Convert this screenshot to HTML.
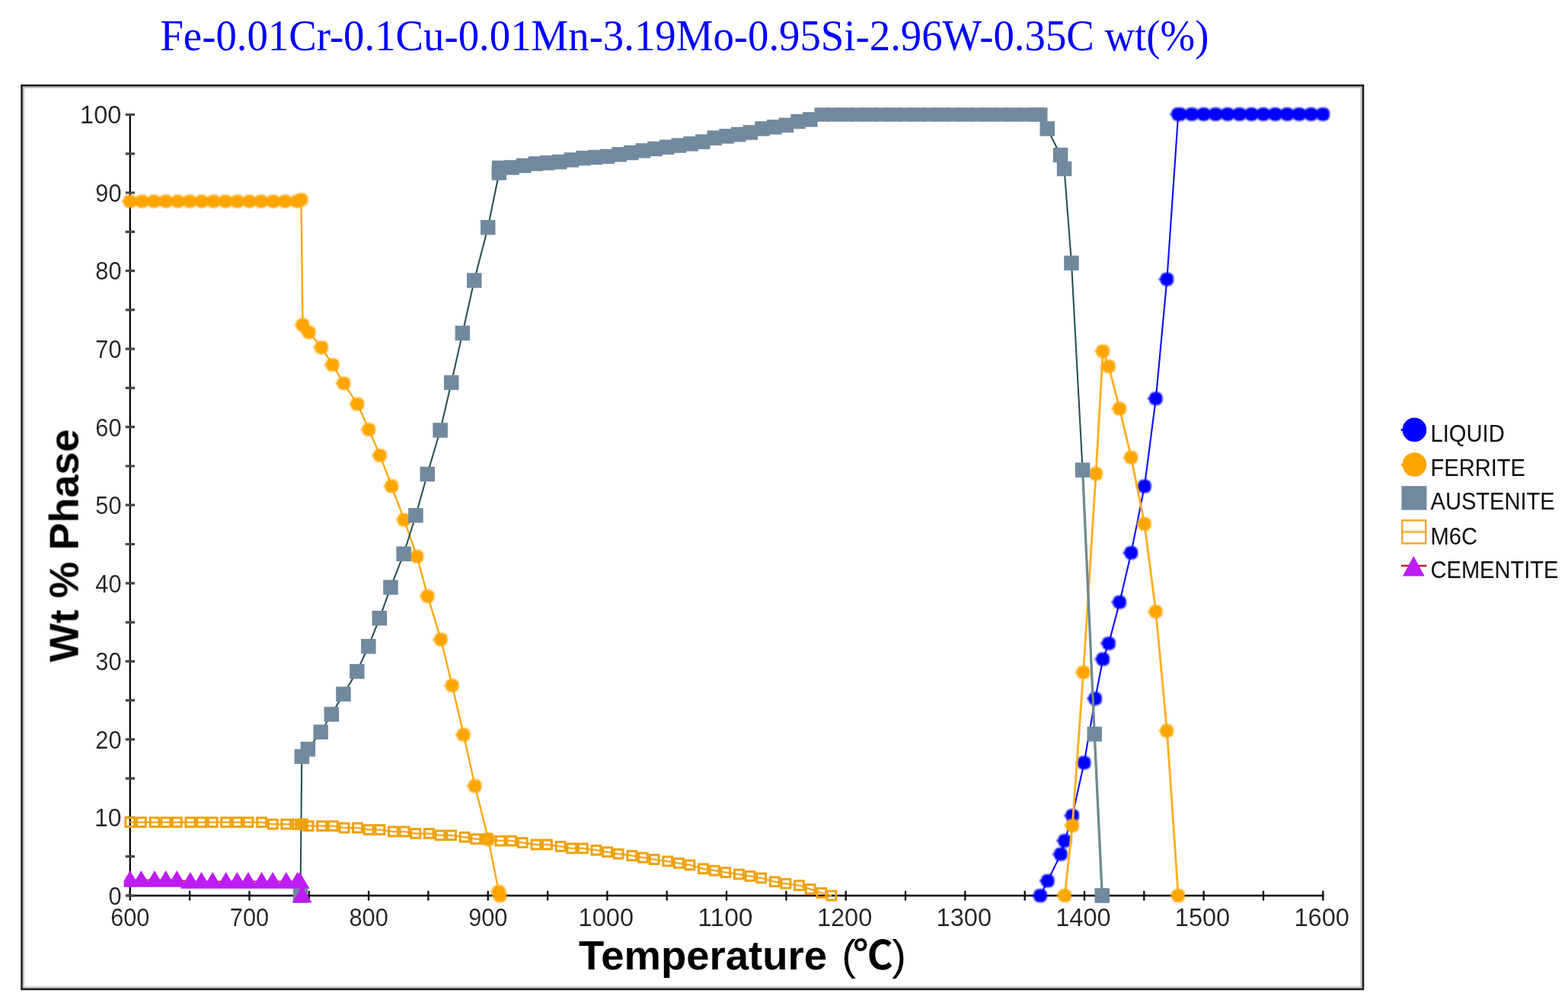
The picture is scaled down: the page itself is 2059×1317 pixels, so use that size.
<!DOCTYPE html>
<html lang="en"><head><meta charset="utf-8"><title>Phase fraction vs temperature</title>
<style>
html,body{margin:0;padding:0;background:#fff;}
body{width:2059px;height:1317px;}
svg{display:block;}
.tk{font-family:"Liberation Sans","DejaVu Sans",sans-serif;font-size:33.5px;fill:#202020;stroke:#fff;stroke-width:0.15px;}
.lg{font-family:"Liberation Sans","DejaVu Sans",sans-serif;font-size:32px;fill:#0a0a0a;}
.ax{font-family:"Liberation Sans","Noto Sans CJK KR",sans-serif;font-size:54px;font-weight:bold;fill:#000;}
.dg{font-family:"Liberation Sans","Noto Sans CJK KR",sans-serif;font-weight:700;font-size:52px;}
.pr{font-weight:normal;font-size:56px;}
.tt{font-family:"Liberation Serif","DejaVu Serif",serif;font-size:58px;fill:#0000ff;}
</style></head><body>
<svg width="2059" height="1317" viewBox="0 0 2059 1317">
<defs>
<filter id="soft" x="0" y="0" width="2059" height="1317" filterUnits="userSpaceOnUse"><feGaussianBlur stdDeviation="0.8"/></filter>
<filter id="fine" x="0" y="0" width="2059" height="1317" filterUnits="userSpaceOnUse"><feGaussianBlur stdDeviation="0.45"/></filter>
<clipPath id="cl"><rect x="162.6" y="100" width="1640" height="1100"/></clipPath>
</defs>
<rect x="0" y="0" width="2059" height="1317" fill="#fff"/>
<g id="frame" fill="none">
<rect x="30.8" y="114.6" width="1756.8" height="1182" stroke="#c2c2c2" stroke-width="2.4"/>
<rect x="28.5" y="112.2" width="1761.5" height="1186.7" stroke="#1a1a1a" stroke-width="2.5"/>
<path d="M170.8 149.4 V1177.2" stroke="#000" stroke-width="2.3"/>
<path d="M165 1176 H1738.4" stroke="#000" stroke-width="2.4"/>
</g>
<g id="labels" filter="url(#fine)">
<text class="tt" x="210.4" y="66.3" textLength="1377" lengthAdjust="spacingAndGlyphs">Fe-0.01Cr-0.1Cu-0.01Mn-3.19Mo-0.95Si-2.96W-0.35C wt(%)</text>
<path d="M170.8 1169.8 V1182.4 M249.1 1169.8 V1182.4 M327.5 1169.8 V1182.4 M405.8 1169.8 V1182.4 M484.1 1169.8 V1182.4 M562.4 1169.8 V1182.4 M640.8 1169.8 V1182.4 M719.1 1169.8 V1182.4 M797.4 1169.8 V1182.4 M875.7 1169.8 V1182.4 M954 1169.8 V1182.4 M1032.4 1169.8 V1182.4 M1110.7 1169.8 V1182.4 M1189 1169.8 V1182.4 M1267.3 1169.8 V1182.4 M1345.7 1169.8 V1182.4 M1424 1169.8 V1182.4 M1502.3 1169.8 V1182.4 M1580.6 1169.8 V1182.4 M1659 1169.8 V1182.4 M1737.3 1169.8 V1182.4" stroke="#0d0d0d" stroke-width="2.3" fill="none"/>
<path d="M164.8 1176 H177 M164.8 1124.7 H177 M164.8 1073.5 H177 M164.8 1022.2 H177 M164.8 970.9 H177 M164.8 919.6 H177 M164.8 868.3 H177 M164.8 817.1 H177 M164.8 765.8 H177 M164.8 714.5 H177 M164.8 663.2 H177 M164.8 612 H177 M164.8 560.7 H177 M164.8 509.4 H177 M164.8 458.1 H177 M164.8 406.9 H177 M164.8 355.6 H177 M164.8 304.3 H177 M164.8 253 H177 M164.8 201.8 H177 M164.8 150.5 H177" stroke="#444" stroke-width="3.2" fill="none"/>
<g class="tk" text-anchor="middle">
<text x="170.8" y="1216" textLength="51.3" lengthAdjust="spacingAndGlyphs">600</text>
<text x="327.5" y="1216" textLength="51.3" lengthAdjust="spacingAndGlyphs">700</text>
<text x="484.1" y="1216" textLength="51.3" lengthAdjust="spacingAndGlyphs">800</text>
<text x="640.8" y="1216" textLength="51.3" lengthAdjust="spacingAndGlyphs">900</text>
<text x="795.8" y="1216" textLength="72.4" lengthAdjust="spacingAndGlyphs">1000</text>
<text x="952.4" y="1216" textLength="72.4" lengthAdjust="spacingAndGlyphs">1100</text>
<text x="1109.1" y="1216" textLength="72.4" lengthAdjust="spacingAndGlyphs">1200</text>
<text x="1265.8" y="1216" textLength="72.4" lengthAdjust="spacingAndGlyphs">1300</text>
<text x="1422.4" y="1216" textLength="72.4" lengthAdjust="spacingAndGlyphs">1400</text>
<text x="1579" y="1216" textLength="72.4" lengthAdjust="spacingAndGlyphs">1500</text>
<text x="1735.7" y="1216" textLength="72.4" lengthAdjust="spacingAndGlyphs">1600</text>
</g>
<g class="tk" text-anchor="end">
<text x="159.5" y="1187.8" textLength="17.1" lengthAdjust="spacingAndGlyphs">0</text>
<text x="159.5" y="1085.2" textLength="35.6" lengthAdjust="spacingAndGlyphs">10</text>
<text x="159.5" y="982.7" textLength="34.2" lengthAdjust="spacingAndGlyphs">20</text>
<text x="159.5" y="880.1" textLength="34.2" lengthAdjust="spacingAndGlyphs">30</text>
<text x="159.5" y="777.6" textLength="34.2" lengthAdjust="spacingAndGlyphs">40</text>
<text x="159.5" y="675" textLength="34.2" lengthAdjust="spacingAndGlyphs">50</text>
<text x="159.5" y="572.5" textLength="34.2" lengthAdjust="spacingAndGlyphs">60</text>
<text x="159.5" y="469.9" textLength="34.2" lengthAdjust="spacingAndGlyphs">70</text>
<text x="159.5" y="367.4" textLength="34.2" lengthAdjust="spacingAndGlyphs">80</text>
<text x="159.5" y="264.8" textLength="34.2" lengthAdjust="spacingAndGlyphs">90</text>
<text x="159.5" y="162.3" textLength="54.4" lengthAdjust="spacingAndGlyphs">100</text>
</g>
<text class="ax" x="760" y="1272.8"><tspan textLength="326" lengthAdjust="spacingAndGlyphs">Temperature</tspan> <tspan class="pr" x="1105.2">(</tspan><tspan class="dg" x="1120.5">℃</tspan><tspan class="pr" x="1171.2">)</tspan></text>
<text class="ax" transform="translate(102.6 869.5) rotate(-90)" textLength="306" lengthAdjust="spacingAndGlyphs">Wt % Phase</text>
<g class="lg">
<text x="1878.5" y="580" textLength="97.2" lengthAdjust="spacingAndGlyphs">LIQUID</text>
<text x="1878.5" y="625.3" textLength="124.5" lengthAdjust="spacingAndGlyphs">FERRITE</text>
<text x="1878.5" y="668.8" textLength="163.2" lengthAdjust="spacingAndGlyphs">AUSTENITE</text>
<text x="1878.5" y="714.6" textLength="61.5" lengthAdjust="spacingAndGlyphs">M6C</text>
<text x="1878.5" y="758.6" textLength="168" lengthAdjust="spacingAndGlyphs">CEMENTITE</text>
</g>
</g>
<g id="liquid">
<path d="M1366.1 1176 L1375.8 1156.6 L1392.9 1121.6 L1398.2 1104 L1408.2 1071 L1423.6 1001.5 L1438.2 917.3 L1448.3 865.5 L1456 844.9 L1470.2 790.7 L1485.4 725.9 L1502.9 638.5 L1517.8 523.4 L1532.4 366.7 L1547.2 150 L1549.3 150 L1565 150 L1580.6 150 L1596.3 150 L1612 150 L1627.6 150 L1643.3 150 L1659 150 L1674.6 150 L1690.3 150 L1706 150 L1721.6 150 L1737.3 150" fill="none" stroke="#0a0aff" stroke-width="2.1" stroke-linejoin="round" filter="url(#fine)"/>
<g fill="#0000ff" filter="url(#soft)"><rect x="1357.4" y="1167.3" width="17.4" height="17.4" rx="7"/><rect x="1355.4" y="1174.7" width="3.4" height="2.6"/><rect x="1367.1" y="1147.9" width="17.4" height="17.4" rx="7"/><rect x="1365.1" y="1155.3" width="3.4" height="2.6"/><rect x="1384.2" y="1112.9" width="17.4" height="17.4" rx="7"/><rect x="1382.2" y="1120.3" width="3.4" height="2.6"/><rect x="1389.5" y="1095.3" width="17.4" height="17.4" rx="7"/><rect x="1387.5" y="1102.7" width="3.4" height="2.6"/><rect x="1399.5" y="1062.3" width="17.4" height="17.4" rx="7"/><rect x="1397.5" y="1069.7" width="3.4" height="2.6"/><rect x="1414.9" y="992.8" width="17.4" height="17.4" rx="7"/><rect x="1412.9" y="1000.2" width="3.4" height="2.6"/><rect x="1429.5" y="908.6" width="17.4" height="17.4" rx="7"/><rect x="1427.5" y="916" width="3.4" height="2.6"/><rect x="1439.6" y="856.8" width="17.4" height="17.4" rx="7"/><rect x="1437.6" y="864.2" width="3.4" height="2.6"/><rect x="1447.3" y="836.2" width="17.4" height="17.4" rx="7"/><rect x="1445.3" y="843.6" width="3.4" height="2.6"/><rect x="1461.5" y="782" width="17.4" height="17.4" rx="7"/><rect x="1459.5" y="789.4" width="3.4" height="2.6"/><rect x="1476.7" y="717.2" width="17.4" height="17.4" rx="7"/><rect x="1474.7" y="724.6" width="3.4" height="2.6"/><rect x="1494.2" y="629.8" width="17.4" height="17.4" rx="7"/><rect x="1492.2" y="637.2" width="3.4" height="2.6"/><rect x="1509.1" y="514.7" width="17.4" height="17.4" rx="7"/><rect x="1507.1" y="522.1" width="3.4" height="2.6"/><rect x="1523.7" y="358" width="17.4" height="17.4" rx="7"/><rect x="1521.7" y="365.4" width="3.4" height="2.6"/><rect x="1538.5" y="141.3" width="17.4" height="17.4" rx="7"/><rect x="1536.5" y="148.7" width="3.4" height="2.6"/><rect x="1540.6" y="141.3" width="17.4" height="17.4" rx="7"/><rect x="1538.6" y="148.7" width="3.4" height="2.6"/><rect x="1556.3" y="141.3" width="17.4" height="17.4" rx="7"/><rect x="1554.3" y="148.7" width="3.4" height="2.6"/><rect x="1571.9" y="141.3" width="17.4" height="17.4" rx="7"/><rect x="1569.9" y="148.7" width="3.4" height="2.6"/><rect x="1587.6" y="141.3" width="17.4" height="17.4" rx="7"/><rect x="1585.6" y="148.7" width="3.4" height="2.6"/><rect x="1603.3" y="141.3" width="17.4" height="17.4" rx="7"/><rect x="1601.3" y="148.7" width="3.4" height="2.6"/><rect x="1618.9" y="141.3" width="17.4" height="17.4" rx="7"/><rect x="1616.9" y="148.7" width="3.4" height="2.6"/><rect x="1634.6" y="141.3" width="17.4" height="17.4" rx="7"/><rect x="1632.6" y="148.7" width="3.4" height="2.6"/><rect x="1650.3" y="141.3" width="17.4" height="17.4" rx="7"/><rect x="1648.3" y="148.7" width="3.4" height="2.6"/><rect x="1665.9" y="141.3" width="17.4" height="17.4" rx="7"/><rect x="1663.9" y="148.7" width="3.4" height="2.6"/><rect x="1681.6" y="141.3" width="17.4" height="17.4" rx="7"/><rect x="1679.6" y="148.7" width="3.4" height="2.6"/><rect x="1697.3" y="141.3" width="17.4" height="17.4" rx="7"/><rect x="1695.3" y="148.7" width="3.4" height="2.6"/><rect x="1712.9" y="141.3" width="17.4" height="17.4" rx="7"/><rect x="1710.9" y="148.7" width="3.4" height="2.6"/><rect x="1728.6" y="141.3" width="17.4" height="17.4" rx="7"/><rect x="1726.6" y="148.7" width="3.4" height="2.6"/></g>
</g>
<g id="ferrite">
<path d="M170.8 264.4 L186.5 264.4 L202.1 264.4 L217.8 264.4 L233.5 264.4 L249.1 264.4 L264.8 264.4 L280.5 264.4 L296.1 264.4 L311.8 264.4 L327.5 264.4 L343.1 264.4 L358.8 264.4 L374.4 264.4 L390.1 264.4 L395.5 262.2 L397.5 426.6 L405.7 436.4 L422.2 456.2 L436.8 479.1 L451.4 503.4 L469.4 530.6 L484.4 564.1 L499 598.1 L514.3 638.3 L530.7 682.6 L547.6 730.8 L561.6 782.9 L579 839.7 L593.8 900.1 L608.8 964.8 L623.7 1032 L641.2 1102 L655 1171 L656.5 1176" fill="none" stroke="#ffa90f" stroke-width="2.4" stroke-linejoin="round" filter="url(#fine)"/>
<path d="M1398.2 1176 L1408.2 1084 L1422.6 882.9 L1439.1 622 L1448.3 461.2 L1456 481.1 L1470.2 536.5 L1485.4 600.6 L1502.9 688 L1517.8 803.1 L1532.4 959.7 L1547.2 1176" fill="none" stroke="#ffb020" stroke-width="2.9" stroke-linejoin="round" filter="url(#fine)"/>
<g fill="#ffa500" filter="url(#soft)"><rect x="162.1" y="255.7" width="17.4" height="17.4" rx="7"/><rect x="160.1" y="263.1" width="3.4" height="2.6"/><rect x="177.8" y="255.7" width="17.4" height="17.4" rx="7"/><rect x="175.8" y="263.1" width="3.4" height="2.6"/><rect x="193.4" y="255.7" width="17.4" height="17.4" rx="7"/><rect x="191.4" y="263.1" width="3.4" height="2.6"/><rect x="209.1" y="255.7" width="17.4" height="17.4" rx="7"/><rect x="207.1" y="263.1" width="3.4" height="2.6"/><rect x="224.8" y="255.7" width="17.4" height="17.4" rx="7"/><rect x="222.8" y="263.1" width="3.4" height="2.6"/><rect x="240.4" y="255.7" width="17.4" height="17.4" rx="7"/><rect x="238.4" y="263.1" width="3.4" height="2.6"/><rect x="256.1" y="255.7" width="17.4" height="17.4" rx="7"/><rect x="254.1" y="263.1" width="3.4" height="2.6"/><rect x="271.8" y="255.7" width="17.4" height="17.4" rx="7"/><rect x="269.8" y="263.1" width="3.4" height="2.6"/><rect x="287.4" y="255.7" width="17.4" height="17.4" rx="7"/><rect x="285.4" y="263.1" width="3.4" height="2.6"/><rect x="303.1" y="255.7" width="17.4" height="17.4" rx="7"/><rect x="301.1" y="263.1" width="3.4" height="2.6"/><rect x="318.8" y="255.7" width="17.4" height="17.4" rx="7"/><rect x="316.8" y="263.1" width="3.4" height="2.6"/><rect x="334.4" y="255.7" width="17.4" height="17.4" rx="7"/><rect x="332.4" y="263.1" width="3.4" height="2.6"/><rect x="350.1" y="255.7" width="17.4" height="17.4" rx="7"/><rect x="348.1" y="263.1" width="3.4" height="2.6"/><rect x="365.7" y="255.7" width="17.4" height="17.4" rx="7"/><rect x="363.7" y="263.1" width="3.4" height="2.6"/><rect x="381.4" y="255.7" width="17.4" height="17.4" rx="7"/><rect x="379.4" y="263.1" width="3.4" height="2.6"/><rect x="386.8" y="253.5" width="17.4" height="17.4" rx="7"/><rect x="384.8" y="260.9" width="3.4" height="2.6"/><rect x="388.8" y="417.9" width="17.4" height="17.4" rx="7"/><rect x="386.8" y="425.3" width="3.4" height="2.6"/><rect x="397" y="427.7" width="17.4" height="17.4" rx="7"/><rect x="395" y="435.1" width="3.4" height="2.6"/><rect x="413.5" y="447.5" width="17.4" height="17.4" rx="7"/><rect x="411.5" y="454.9" width="3.4" height="2.6"/><rect x="428.1" y="470.4" width="17.4" height="17.4" rx="7"/><rect x="426.1" y="477.8" width="3.4" height="2.6"/><rect x="442.7" y="494.7" width="17.4" height="17.4" rx="7"/><rect x="440.7" y="502.1" width="3.4" height="2.6"/><rect x="460.7" y="521.9" width="17.4" height="17.4" rx="7"/><rect x="458.7" y="529.3" width="3.4" height="2.6"/><rect x="475.7" y="555.4" width="17.4" height="17.4" rx="7"/><rect x="473.7" y="562.8" width="3.4" height="2.6"/><rect x="490.3" y="589.4" width="17.4" height="17.4" rx="7"/><rect x="488.3" y="596.8" width="3.4" height="2.6"/><rect x="505.6" y="629.6" width="17.4" height="17.4" rx="7"/><rect x="503.6" y="637" width="3.4" height="2.6"/><rect x="522" y="673.9" width="17.4" height="17.4" rx="7"/><rect x="520" y="681.3" width="3.4" height="2.6"/><rect x="538.9" y="722.1" width="17.4" height="17.4" rx="7"/><rect x="536.9" y="729.5" width="3.4" height="2.6"/><rect x="552.9" y="774.2" width="17.4" height="17.4" rx="7"/><rect x="550.9" y="781.6" width="3.4" height="2.6"/><rect x="570.3" y="831" width="17.4" height="17.4" rx="7"/><rect x="568.3" y="838.4" width="3.4" height="2.6"/><rect x="585.1" y="891.4" width="17.4" height="17.4" rx="7"/><rect x="583.1" y="898.8" width="3.4" height="2.6"/><rect x="600.1" y="956.1" width="17.4" height="17.4" rx="7"/><rect x="598.1" y="963.5" width="3.4" height="2.6"/><rect x="615" y="1023.3" width="17.4" height="17.4" rx="7"/><rect x="613" y="1030.7" width="3.4" height="2.6"/><rect x="632.5" y="1093.3" width="17.4" height="17.4" rx="7"/><rect x="630.5" y="1100.7" width="3.4" height="2.6"/><rect x="646.3" y="1162.3" width="17.4" height="17.4" rx="7"/><rect x="644.3" y="1169.7" width="3.4" height="2.6"/><rect x="647.8" y="1167.3" width="17.4" height="17.4" rx="7"/><rect x="645.8" y="1174.7" width="3.4" height="2.6"/><rect x="1389.5" y="1167.3" width="17.4" height="17.4" rx="7"/><rect x="1387.5" y="1174.7" width="3.4" height="2.6"/><rect x="1399.5" y="1075.3" width="17.4" height="17.4" rx="7"/><rect x="1397.5" y="1082.7" width="3.4" height="2.6"/><rect x="1413.9" y="874.2" width="17.4" height="17.4" rx="7"/><rect x="1411.9" y="881.6" width="3.4" height="2.6"/><rect x="1430.4" y="613.3" width="17.4" height="17.4" rx="7"/><rect x="1428.4" y="620.7" width="3.4" height="2.6"/><rect x="1439.6" y="452.5" width="17.4" height="17.4" rx="7"/><rect x="1437.6" y="459.9" width="3.4" height="2.6"/><rect x="1447.3" y="472.4" width="17.4" height="17.4" rx="7"/><rect x="1445.3" y="479.8" width="3.4" height="2.6"/><rect x="1461.5" y="527.8" width="17.4" height="17.4" rx="7"/><rect x="1459.5" y="535.2" width="3.4" height="2.6"/><rect x="1476.7" y="591.9" width="17.4" height="17.4" rx="7"/><rect x="1474.7" y="599.3" width="3.4" height="2.6"/><rect x="1494.2" y="679.3" width="17.4" height="17.4" rx="7"/><rect x="1492.2" y="686.7" width="3.4" height="2.6"/><rect x="1509.1" y="794.4" width="17.4" height="17.4" rx="7"/><rect x="1507.1" y="801.8" width="3.4" height="2.6"/><rect x="1523.7" y="951" width="17.4" height="17.4" rx="7"/><rect x="1521.7" y="958.4" width="3.4" height="2.6"/><rect x="1538.5" y="1167.3" width="17.4" height="17.4" rx="7"/><rect x="1536.5" y="1174.7" width="3.4" height="2.6"/></g>
</g>
<g id="austenite">
<path d="M394.5 1176 L396.3 993.4 L404.3 983.7 L421.2 961.3 L435.4 938 L451 911.4 L468.8 881.6 L483.8 848.7 L498.4 811.8 L513 771.2 L530.1 727.3 L546 676.8 L561.2 622.5 L578.1 565 L592.7 502.4 L607.4 437.3 L622.8 368.1 L640.7 298.7 L655.4 226.8 L655.6 220.6 L672.1 219.9 L687.7 217.4 L703.4 215 L719.1 213.8 L734.7 212.7 L750.4 210 L766.1 207.7 L781.7 206.5 L797.4 205.4 L813.1 202.8 L828.7 200.5 L844.4 197.8 L860.1 195.4 L875.7 193.2 L891.4 191.1 L907.1 188.8 L922.7 186.2 L938.4 181.2 L954 178.8 L969.7 176.5 L985.4 173.9 L1001 168.9 L1016.7 166.8 L1032.4 164.3 L1048 159.6 L1063.7 157 L1079.4 150.5 L1095 150.5 L1110.7 150.5 L1126.4 150.5 L1142 150.5 L1157.7 150.5 L1173.4 150.5 L1189 150.5 L1204.7 150.5 L1220.4 150.5 L1236 150.5 L1251.7 150.5 L1267.3 150.5 L1283 150.5 L1298.7 150.5 L1314.3 150.5 L1330 150.5 L1345.7 150.5 L1361.3 150.5 L1365.8 150.5 L1375.3 168.9 L1392.5 203.5 L1397.5 221.5 L1407 345.4 L1421.6 617.1 L1437.2 964 L1447.3 1176" fill="none" stroke="#2c5252" stroke-width="2.1" stroke-linejoin="round" filter="url(#fine)"/>
<path d="M1421.6 617.1 L1437.2 964 L1447.3 1176" fill="none" stroke="#708b8b" stroke-width="3.3" stroke-linejoin="round" filter="url(#fine)"/>
<g fill="#71899e" filter="url(#fine)"><rect x="384.8" y="1166.2" width="19.5" height="19.5"/><rect x="386.6" y="983.6" width="19.5" height="19.5"/><rect x="394.6" y="974" width="19.5" height="19.5"/><rect x="411.4" y="951.5" width="19.5" height="19.5"/><rect x="425.6" y="928.2" width="19.5" height="19.5"/><rect x="441.2" y="901.6" width="19.5" height="19.5"/><rect x="459.1" y="871.9" width="19.5" height="19.5"/><rect x="474.1" y="839" width="19.5" height="19.5"/><rect x="488.6" y="802" width="19.5" height="19.5"/><rect x="503.2" y="761.5" width="19.5" height="19.5"/><rect x="520.4" y="717.5" width="19.5" height="19.5"/><rect x="536.2" y="667" width="19.5" height="19.5"/><rect x="551.5" y="612.8" width="19.5" height="19.5"/><rect x="568.4" y="555.2" width="19.5" height="19.5"/><rect x="583" y="492.6" width="19.5" height="19.5"/><rect x="597.6" y="427.6" width="19.5" height="19.5"/><rect x="613" y="358.4" width="19.5" height="19.5"/><rect x="631" y="288.9" width="19.5" height="19.5"/><rect x="645.6" y="217.1" width="19.5" height="19.5"/><rect x="645.9" y="210.8" width="19.5" height="19.5"/><rect x="662.3" y="210.2" width="19.5" height="19.5"/><rect x="678" y="207.7" width="19.5" height="19.5"/><rect x="693.7" y="205.2" width="19.5" height="19.5"/><rect x="709.3" y="204.1" width="19.5" height="19.5"/><rect x="725" y="202.9" width="19.5" height="19.5"/><rect x="740.7" y="200.2" width="19.5" height="19.5"/><rect x="756.3" y="197.9" width="19.5" height="19.5"/><rect x="772" y="196.8" width="19.5" height="19.5"/><rect x="787.7" y="195.7" width="19.5" height="19.5"/><rect x="803.3" y="193.1" width="19.5" height="19.5"/><rect x="819" y="190.8" width="19.5" height="19.5"/><rect x="834.6" y="188.1" width="19.5" height="19.5"/><rect x="850.3" y="185.7" width="19.5" height="19.5"/><rect x="866" y="183.4" width="19.5" height="19.5"/><rect x="881.6" y="181.3" width="19.5" height="19.5"/><rect x="897.3" y="179.1" width="19.5" height="19.5"/><rect x="913" y="176.4" width="19.5" height="19.5"/><rect x="928.6" y="171.4" width="19.5" height="19.5"/><rect x="944.3" y="169.1" width="19.5" height="19.5"/><rect x="960" y="166.8" width="19.5" height="19.5"/><rect x="975.6" y="164.2" width="19.5" height="19.5"/><rect x="991.3" y="159.2" width="19.5" height="19.5"/><rect x="1007" y="157.1" width="19.5" height="19.5"/><rect x="1022.6" y="154.6" width="19.5" height="19.5"/><rect x="1038.3" y="149.8" width="19.5" height="19.5"/><rect x="1054" y="147.2" width="19.5" height="19.5"/><rect x="1069.6" y="141.3" width="19.5" height="18.4"/><rect x="1085.3" y="141.3" width="19.5" height="18.4"/><rect x="1101" y="141.3" width="19.5" height="18.4"/><rect x="1116.6" y="141.3" width="19.5" height="18.4"/><rect x="1132.3" y="141.3" width="19.5" height="18.4"/><rect x="1147.9" y="141.3" width="19.5" height="18.4"/><rect x="1163.6" y="141.3" width="19.5" height="18.4"/><rect x="1179.3" y="141.3" width="19.5" height="18.4"/><rect x="1194.9" y="141.3" width="19.5" height="18.4"/><rect x="1210.6" y="141.3" width="19.5" height="18.4"/><rect x="1226.3" y="141.3" width="19.5" height="18.4"/><rect x="1241.9" y="141.3" width="19.5" height="18.4"/><rect x="1257.6" y="141.3" width="19.5" height="18.4"/><rect x="1273.3" y="141.3" width="19.5" height="18.4"/><rect x="1288.9" y="141.3" width="19.5" height="18.4"/><rect x="1304.6" y="141.3" width="19.5" height="18.4"/><rect x="1320.3" y="141.3" width="19.5" height="18.4"/><rect x="1335.9" y="141.3" width="19.5" height="18.4"/><rect x="1351.6" y="141.3" width="19.5" height="18.4"/><rect x="1356" y="141.3" width="19.5" height="18.4"/><rect x="1365.5" y="159.2" width="19.5" height="19.5"/><rect x="1382.8" y="193.8" width="19.5" height="19.5"/><rect x="1387.8" y="211.8" width="19.5" height="19.5"/><rect x="1397.2" y="335.6" width="19.5" height="19.5"/><rect x="1411.8" y="607.4" width="19.5" height="19.5"/><rect x="1427.5" y="954.2" width="19.5" height="19.5"/><rect x="1437.5" y="1166.2" width="19.5" height="19.5"/></g>
</g>
<g id="m6c" filter="url(#fine)">
<path d="M170.8 1079.7 L185.4 1079.7 L203 1079.7 L217.7 1079.7 L232.3 1079.7 L249.9 1079.7 L264.5 1079.7 L279.2 1079.7 L296.7 1079.7 L311.4 1079.7 L326 1079.7 L343.6 1079.7 L358.2 1082.2 L375.8 1082.2 L390.5 1082.2 L405.1 1084.6 L422.7 1084.6 L437.3 1084.6 L452 1087 L469.5 1087 L484.2 1089.5 L498.8 1089.5 L516.4 1091.9 L531.1 1091.9 L545.7 1094.4 L563.3 1094.4 L577.9 1096.8 L592.6 1096.8 L610.1 1099.2 L624.8 1101.7 L639.4 1101.7 L657 1104.1 L671.6 1104.1 L686.3 1106.5 L703.9 1109 L718.5 1109 L736.1 1111.4 L750.7 1113.9 L765.4 1113.9 L782.9 1116.3 L797.6 1118.7 L812.2 1121.2 L829.8 1123.6 L844.4 1126.1 L859.1 1128.5 L876.7 1130.9 L891.3 1133.4 L905.9 1135.8 L923.5 1140.7 L938.2 1143.1 L952.8 1145.6 L970.4 1148 L985 1150.4 L999.7 1152.9 L1017.2 1157.8 L1031.9 1160.2 L1049.5 1162.6 L1064.1 1167.5 L1078.8 1172.4 L1091.9 1176" fill="none" stroke="#f2ad2a" stroke-width="2.5"/>
<g fill="none" stroke="#eea20c" stroke-width="3"><rect x="164.9" y="1073.8" width="11.8" height="11.8"/><rect x="179.5" y="1073.8" width="11.8" height="11.8"/><rect x="197.1" y="1073.8" width="11.8" height="11.8"/><rect x="211.8" y="1073.8" width="11.8" height="11.8"/><rect x="226.4" y="1073.8" width="11.8" height="11.8"/><rect x="244" y="1073.8" width="11.8" height="11.8"/><rect x="258.6" y="1073.8" width="11.8" height="11.8"/><rect x="273.3" y="1073.8" width="11.8" height="11.8"/><rect x="290.8" y="1073.8" width="11.8" height="11.8"/><rect x="305.5" y="1073.8" width="11.8" height="11.8"/><rect x="320.1" y="1073.8" width="11.8" height="11.8"/><rect x="337.7" y="1073.8" width="11.8" height="11.8"/><rect x="352.3" y="1076.3" width="11.8" height="11.8"/><rect x="369.9" y="1076.3" width="11.8" height="11.8"/><rect x="384.6" y="1076.3" width="11.8" height="11.8"/><rect x="399.2" y="1078.7" width="11.8" height="11.8"/><rect x="416.8" y="1078.7" width="11.8" height="11.8"/><rect x="431.4" y="1078.7" width="11.8" height="11.8"/><rect x="446.1" y="1081.1" width="11.8" height="11.8"/><rect x="463.6" y="1081.1" width="11.8" height="11.8"/><rect x="478.3" y="1083.6" width="11.8" height="11.8"/><rect x="492.9" y="1083.6" width="11.8" height="11.8"/><rect x="510.5" y="1086" width="11.8" height="11.8"/><rect x="525.2" y="1086" width="11.8" height="11.8"/><rect x="539.8" y="1088.5" width="11.8" height="11.8"/><rect x="557.4" y="1088.5" width="11.8" height="11.8"/><rect x="572" y="1090.9" width="11.8" height="11.8"/><rect x="586.7" y="1090.9" width="11.8" height="11.8"/><rect x="604.2" y="1093.3" width="11.8" height="11.8"/><rect x="618.9" y="1095.8" width="11.8" height="11.8"/><rect x="633.5" y="1095.8" width="11.8" height="11.8"/><rect x="651.1" y="1098.2" width="11.8" height="11.8"/><rect x="665.7" y="1098.2" width="11.8" height="11.8"/><rect x="680.4" y="1100.6" width="11.8" height="11.8"/><rect x="698" y="1103.1" width="11.8" height="11.8"/><rect x="712.6" y="1103.1" width="11.8" height="11.8"/><rect x="730.2" y="1105.5" width="11.8" height="11.8"/><rect x="744.8" y="1108" width="11.8" height="11.8"/><rect x="759.5" y="1108" width="11.8" height="11.8"/><rect x="777" y="1110.4" width="11.8" height="11.8"/><rect x="791.7" y="1112.8" width="11.8" height="11.8"/><rect x="806.3" y="1115.3" width="11.8" height="11.8"/><rect x="823.9" y="1117.7" width="11.8" height="11.8"/><rect x="838.5" y="1120.2" width="11.8" height="11.8"/><rect x="853.2" y="1122.6" width="11.8" height="11.8"/><rect x="870.8" y="1125" width="11.8" height="11.8"/><rect x="885.4" y="1127.5" width="11.8" height="11.8"/><rect x="900" y="1129.9" width="11.8" height="11.8"/><rect x="917.6" y="1134.8" width="11.8" height="11.8"/><rect x="932.3" y="1137.2" width="11.8" height="11.8"/><rect x="946.9" y="1139.7" width="11.8" height="11.8"/><rect x="964.5" y="1142.1" width="11.8" height="11.8"/><rect x="979.1" y="1144.5" width="11.8" height="11.8"/><rect x="993.8" y="1147" width="11.8" height="11.8"/><rect x="1011.3" y="1151.9" width="11.8" height="11.8"/><rect x="1026" y="1154.3" width="11.8" height="11.8"/><rect x="1043.6" y="1156.7" width="11.8" height="11.8"/><rect x="1058.2" y="1161.6" width="11.8" height="11.8"/><rect x="1072.9" y="1166.5" width="11.8" height="11.8"/><rect x="1086" y="1170.1" width="11.8" height="11.8"/><rect x="388.7" y="1076.7" width="11.8" height="11.8"/><rect x="391.7" y="1076.7" width="11.8" height="11.8"/></g>
</g>
<rect x="391.4" y="1074.6" width="12.8" height="15" fill="#eea20c" filter="url(#fine)"/>
<g id="cementite">
<path d="M170.8 1155.5 L185.4 1155.5 L203 1155.5 L217.7 1155.5 L232.3 1155.5 L249.9 1157.5 L264.5 1157.5 L279.2 1157.5 L296.7 1157.5 L311.4 1157.5 L326 1157.5 L343.6 1157.5 L358.2 1157.5 L375.8 1157.5 L390.5 1157.5 L393.6 1157.5 L396.6 1176" fill="none" stroke="#c8281e" stroke-width="2.1" stroke-linejoin="round" filter="url(#fine)"/>
<g filter="url(#fine)"><path fill="#bd1ef5" clip-path="url(#cl)" d="M170.8 1143.1 L183.8 1164.7 L157.8 1164.7Z M185.4 1143.1 L198.4 1164.7 L172.4 1164.7Z M203 1143.1 L216 1164.7 L190 1164.7Z M217.7 1143.1 L230.7 1164.7 L204.7 1164.7Z M232.3 1143.1 L245.3 1164.7 L219.3 1164.7Z M249.9 1145.1 L262.9 1166.7 L236.9 1166.7Z M264.5 1145.1 L277.5 1166.7 L251.5 1166.7Z M279.2 1145.1 L292.2 1166.7 L266.2 1166.7Z M296.7 1145.1 L309.7 1166.7 L283.7 1166.7Z M311.4 1145.1 L324.4 1166.7 L298.4 1166.7Z M326 1145.1 L339 1166.7 L313 1166.7Z M343.6 1145.1 L356.6 1166.7 L330.6 1166.7Z M358.2 1145.1 L371.2 1166.7 L345.2 1166.7Z M375.8 1145.1 L388.8 1166.7 L362.8 1166.7Z M390.5 1145.1 L403.5 1166.7 L377.5 1166.7Z M393.6 1145.1 L406.6 1166.7 L380.6 1166.7Z M396.6 1163.6 L409.6 1185.2 L383.6 1185.2Z"/></g>
</g>
<g id="legend" filter="url(#fine)">
<circle cx="1857.4" cy="564.4" r="15.8" fill="#0000ff"/><rect x="1839.6" y="563.2" width="4" height="2.6" fill="#0000ff"/>
<circle cx="1857.4" cy="610" r="15.8" fill="#ffa500"/><rect x="1839.6" y="608.8" width="4" height="2.6" fill="#ffa500"/>
<rect x="1840.4" y="638.2" width="33" height="31.4" fill="#71899e"/>
<path d="M1840 698.4 H1873.4" stroke="#f3bf58" stroke-width="3.4" fill="none"/>
<rect x="1841.2" y="683.3" width="31" height="30.2" fill="none" stroke="#efae36" stroke-width="2.6"/>
<path d="M1840 742.8 H1873.4" stroke="#c41414" stroke-width="2.3" fill="none"/>
<path d="M1856.3 730 L1870.6 756.6 L1842 756.6Z" fill="#bd1ef5"/>
</g>
</svg>
</body></html>
